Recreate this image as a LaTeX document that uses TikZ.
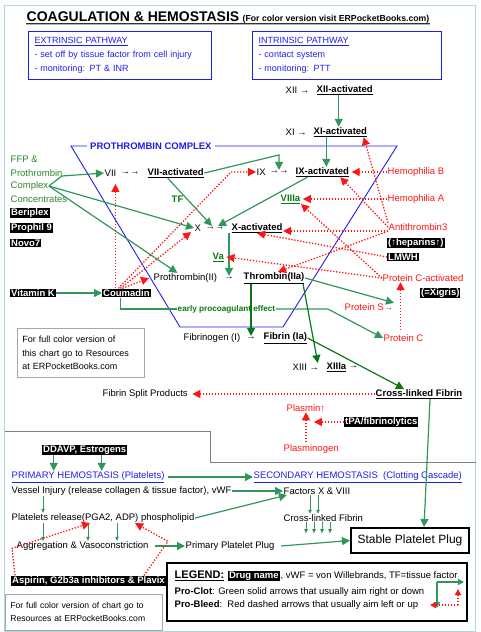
\documentclass[tikz,border=0pt]{standalone}
\usepackage{fontspec}
\setmainfont{Liberation Sans}
\usetikzlibrary{arrows.meta, positioning}
\definecolor{ERblue}{RGB}{30,30,235}
\definecolor{ERgreen}{RGB}{50,150,90}
\definecolor{ERdkgreen}{RGB}{10,120,20}
\definecolor{ERtxtgreen}{RGB}{45,135,45}
\definecolor{ERred}{RGB}{255,20,20}
\definecolor{ERframe}{RGB}{175,215,230}
\tikzstyle{lbl}      = [font=\fontsize{9.5}{11}\selectfont, inner sep=0.5pt, anchor=west]
\tikzstyle{act}      = [lbl, font=\fontsize{9.5}{11}\selectfont\bfseries]
\tikzstyle{redlbl}   = [lbl, text=ERred]
\tikzstyle{drug}     = [lbl, font=\fontsize{9.5}{11}\selectfont\bfseries, fill=black, text=white, inner sep=1pt]
\tikzstyle{pathbox}  = [draw=ERblue, line width=1pt, text=ERblue, align=left, anchor=north west, font=\fontsize{9}{14}\selectfont, inner xsep=6pt, minimum height=48pt]
\tikzstyle{notebox}  = [draw=gray!70, line width=0.8pt, align=left, anchor=north west, inner xsep=5pt]
\tikzstyle{clotline} = [ERgreen, line width=1.2pt]
\tikzstyle{clot}     = [clotline, -{Triangle[length=8pt,width=8pt]}]
\tikzstyle{clotdk}   = [clot, ERdkgreen]
\tikzstyle{bleed}    = [ERred, line width=1.3pt, dash pattern=on 1.3pt off 1.7pt, -{Triangle[length=8pt,width=8pt]}]
\tikzstyle{tick}     = [ERgreen, line width=0.8pt, -{Triangle[length=4pt,width=3.5pt]}]
\tikzstyle{small}    = [-{Triangle[length=6pt,width=6pt]}]

\begin{document}
\begin{tikzpicture}[x=1pt,y=-1pt]
    \useasboundingbox (0,0) rectangle (480,632);
    \draw[ERframe, line width=1pt] (4.5,5) rectangle (475.5,631);
    \draw[gray, line width=0.8pt] (4.5,431) -- (210,431) -- (210,462) -- (475.5,462);

    % heading
    \node[lbl, font=\fontsize{14}{16}\selectfont\bfseries] (title) at (26,17) {COAGULATION \& HEMOSTASIS};
    \node[lbl, font=\fontsize{8.7}{10}\selectfont\bfseries] (visit) at (242,19.5) {(For color version visit ERPocketBooks.com)};
    \draw[gray!60, line width=1.4pt] ([yshift=-2pt]title.south west) -- ([yshift=-2pt]title.south west -| visit.east);
    \draw[black!80, line width=0.7pt] ([yshift=-1pt]title.south west) -- ([yshift=-1pt]title.south west -| visit.east);

    \node[pathbox, text width=171pt] (extr) at (28,31) {\underline{EXTRINSIC PATHWAY}\\- set off by tissue factor from cell injury\\- monitoring: PT \& INR};
    \node[pathbox, text width=177pt] (intr) at (252,31) {\underline{INTRINSIC PATHWAY}\\- contact system\\- monitoring: PTT};

    % prothrombin complex
    \draw[ERblue, line width=0.9pt] (71,146) -- (180,327) -- (283,327) -- (397,146) -- cycle;
    \node[lbl, font=\fontsize{9.5}{11}\selectfont\bfseries, text=ERblue, fill=white, inner xsep=3pt] (pcx) at (87,146) {PROTHROMBIN COMPLEX};

    \node[lbl] (XII)   at (285,90) {XII →};
    \node[act] (XIIa)  at (316,90) {\underline{XII-activated}};
    \node[lbl] (XI)    at (285,132) {XI →};
    \node[act] (XIa)   at (313,132) {\underline{XI-activated}};
    \node[lbl] (IX)    at (256,172) {IX};
    \node[lbl, anchor=center] (IXto) at (279,172) {→→};
    \node[act] (IXa)   at (295,172) {\underline{IX-activated}};
    \node[lbl] (VII)   at (104,173) {VII};
    \node[lbl, anchor=center] (VIIto) at (130,173) {→→};
    \node[act] (VIIa)  at (147,173) {\underline{VII-activated}};
    \node[lbl] (X)     at (194,228) {X};
    \node[lbl, anchor=center] (Xto) at (215,228) {→→};
    \node[act] (Xa)    at (231,228) {\underline{X-activated}};
    \node[lbl] (PT)    at (153,278) {Prothrombin(II)};
    \node[lbl, anchor=center] (PTto) at (229,278) {→};
    \node[act] (Th)    at (243,278) {\underline{Thrombin(IIa)}};
    \node[lbl] (Fg)    at (183,338) {Fibrinogen (I)};
    \node[lbl, anchor=center] (Fgto) at (251,338) {→};
    \node[act] (Fb)    at (263,338) {\underline{Fibrin (Ia)}};
    \node[lbl] (XIII)  at (292,367) {XIII →};
    \node[act] (XIIIa) at (326,367) {\underline{XIIIa}};
    \node[lbl, right=1pt of XIIIa] (XIIIto) {→};
    \node[act] (XLF)   at (375,394) {\underline{Cross-linked Fibrin}};
    \node[lbl] (FSP)   at (102,394) {Fibrin Split Products};

    \node[act, text=ERdkgreen] (VIIIa) at (280,199) {\underline{VIIIa}};
    \node[act, text=ERdkgreen] (Va)    at (212,257) {\underline{Va}};
    \node[act, text=ERdkgreen] (TF)    at (171,199) {TF};

    \node[redlbl] (HemB) at (387,172) {Hemophilia B};
    \node[redlbl] (HemA) at (387,199) {Hemophilia A};
    \node[redlbl] (AT3)  at (388,227) {Antithrombin3};
    \node[drug]   (Hep)  at (387,243) {(↑heparins↑)};
    \node[drug]   (LMWH) at (387,257) {LMWH};
    \node[redlbl] (PCa)  at (382,278) {Protein C-activated};
    \node[drug]   (Xig)  at (420,293) {(=Xigris)};
    \node[redlbl] (PS)   at (344,307) {Protein S→};
    \node[redlbl] (PC)   at (383,338) {Protein C};
    \node[redlbl] (Pls)  at (286,408) {Plasmin↑};
    \node[drug]   (tPA)  at (344,422) {tPA/fibrinolytics};
    \node[redlbl] (Plg)  at (283,449) {Plasminogen};

    \node[lbl, text=ERtxtgreen] (FFP1) at (10,159) {FFP \&};
    \node[lbl, text=ERtxtgreen] (FFP2) at (10,173) {Prothrombin};
    \node[lbl, text=ERtxtgreen] (FFP3) at (10,186) {Complex};
    \node[lbl, text=ERtxtgreen] (FFP4) at (10,199) {Concentrates};
    \node[drug] (Beri) at (10,213) {Beriplex};
    \node[drug] (Prof) at (10,228) {Prophil 9};
    \node[drug] (Novo) at (10,243) {Novo7};
    \node[drug] (VitK) at (10,293) {Vitamin K};
    \node[drug] (Coum) at (102,293) {Coumadin};
    \node[lbl, font=\fontsize{8.2}{10}\selectfont\bfseries, text=ERdkgreen] (early) at (177,309) {early procoagulant effect};

    \node[notebox, text width=117pt, minimum height=49pt, font=\fontsize{9}{13.5}\selectfont] (note1) at (17,328) {For full color version of\\this chart go to Resources\\at ERPocketBooks.com};

    % pro-clot
    \draw[clot] ([xshift=-6pt]XIIa.south) -- ([xshift=-6pt]XIIa.south |- XIa.north);
    \draw[clot] ([xshift=-14pt]XIa.south) -- ([xshift=-14pt]XIa.south |- IXa.north);
    \draw[clot] (VIIa.east) -- ([yshift=15pt]IXto.north) -- (IXto.north);
    \draw[clot] ([xshift=-8pt]VIIa.south) -- ([xshift=-3pt]Xto.north);
    \draw[clot] ([xshift=-15pt]IXa.south) -- ([xshift=3pt]Xto.north);
    \draw[clot] (FFP3.east) -- ++(13,-10) -- (VII.west);
    \draw[clot] (FFP3.east) -- (X.west);
    \draw[clot] (FFP3.east) -- ([xshift=-8pt]PT.north);
    \draw[clot] (PTto.north |- Xa.south) -- (PTto.north);
    \draw[clot] (VitK.east) -- (Coum.west);
    \draw[clotline] ([xshift=-6pt]Coum.south) |- (early.west);
    \draw[clot] (early.east) -- ++(52,0) -- (PC.west);
    \draw[clotdk] (Fgto.north |- Th.south) -- (Fgto.north);
    \draw[clotdk] ([xshift=-2pt]Th.south east) -- ([xshift=-2pt]XIII.north east);
    \draw[clot] (Th.east) -- (PS.north east);
    \draw[clotdk] (Fb.east) -- ([xshift=-15pt]XLF.north);

    % pro-bleed
    \draw[bleed, shorten >=7pt] ([xshift=-11pt]Coum.north) -- ([xshift=-11pt]Coum.north |- VII.south);
    \draw[bleed] ([xshift=-8pt]Coum.north) -- ([xshift=-25pt]IX.west) -- (IX.west);
    \draw[bleed] ([xshift=-6pt]Coum.north) -- ([xshift=-3pt]X.south west);
    \draw[bleed] ([xshift=-4pt]Coum.north) -- ([xshift=-4pt]PT.west);
    \draw[bleed] (HemB.west) -- ([xshift=2pt]IXa.east);
    \draw[bleed] (HemA.west) -- ([xshift=2pt]VIIIa.east);
    \draw[bleed] (AT3.north west) -- ([xshift=-4pt]XIa.south east);
    \draw[bleed] (AT3.west) -- ([xshift=18pt]IXa.south);
    \draw[bleed] ([yshift=-4pt]AT3.west) -- ([yshift=-4pt]AT3.west -| Xa.east);
    \draw[bleed] (AT3.south west) -- ([xshift=4pt]Th.north);
    \draw[bleed] (LMWH.west) -- (Xa.south);
    \draw[bleed] (PCa.west) -- (VIIIa.south east);
    \draw[bleed] (PCa.west) -- ([xshift=2pt]Va.east);
    \draw[bleed, shorten <=4pt] ([xshift=-3pt]PC.north) -- ([xshift=-3pt]PC.north |- PCa.south);
    \draw[bleed, shorten >=4pt] (XLF.west) -- (FSP.east);
    \draw[bleed] (tPA.west) -- ([xshift=8pt]Pls.south |- tPA.west);
    \draw[bleed, shorten <=2pt] (Pls.south |- Plg.north) -- (Pls.south);

    % lower part
    \node[drug] (DDAVP) at (42,450) {DDAVP, Estrogens};
    \node[lbl, text=ERblue] (Prim) at (11,477) {\underline{PRIMARY HEMOSTASIS (Platelets)}};
    \node[lbl, text=ERblue] (Sec)  at (253,477) {\underline{SECONDARY HEMOSTASIS\ \ (Clotting Cascade)}};
    \node[lbl] (Vess)  at (11,491) {Vessel Injury (release collagen \& tissue factor), vWF};
    \node[lbl] (Fac)   at (283,491) {Factors X \& VIII};
    \node[lbl] (PlRel) at (11,518) {Platelets release(PGA2, ADP) phospholipid};
    \node[lbl] (XLF2)  at (283,518) {Cross-linked Fibrin};
    \node[lbl] (Agg)   at (16,546) {Aggregation \& Vasoconstriction};
    \node[lbl] (PPP)   at (185,546) {Primary Platelet Plug};
    \node[draw, line width=2pt, anchor=north west, minimum width=118pt, minimum height=25pt, inner sep=0pt, font=\fontsize{12}{14}\selectfont] (SPP) at (350,527) {Stable Platelet Plug};
    \node[drug] (Asp)  at (11,581) {Aspirin, G2b3a inhibitors \& Plavix};

    \draw[clot] ([xshift=11pt]XLF.south) -- ([xshift=14pt]SPP.north);
    \draw[clot] ([xshift=-31pt]DDAVP.south) -- ([xshift=-31pt]DDAVP.south |- Prim.north);
    \draw[clot] ([xshift=17pt]DDAVP.south) -- ([xshift=17pt]DDAVP.south |- Prim.north);
    \draw[clot] ([xshift=3pt]Prim.east) -- (Sec.west);
    \draw[clot] (Vess.east) -- (Fac.west);
    \draw[clot] (PlRel.east) -- ([xshift=4pt]Fac.south west);
    \draw[tick] ([xshift=32pt]Vess.south west) -- ([xshift=32pt]Vess.south west |- PlRel.north);
    \foreach \dx in {32pt,77pt,106pt}
        \draw[tick] ([xshift=\dx]PlRel.south west) -- ([xshift=\dx]PlRel.south west |- Agg.north);
    \foreach \dx in {27pt,35pt}
        \draw[tick] ([xshift=\dx]Fac.south west) -- ([xshift=\dx]Fac.south west |- XLF2.north);
    \foreach \dx in {23pt,31pt,39pt,47pt}
        \draw[tick] ([xshift=\dx]XLF2.south west) -- ++(0,11);
    \draw[clot] ([xshift=6pt]Agg.east) -- (PPP.west);
    \draw[clot] ([xshift=6pt]PPP.east) -- (SPP.west);
    \draw[bleed] ([xshift=4pt]Asp.north west) -- ++(-3,-27) -- ([xshift=79pt]PlRel.south west);
    \draw[bleed] ([xshift=-22pt]Asp.north east) -- ++(24,-34) -- ([xshift=124pt]PlRel.south west);

    % legend
    \draw[line width=2.5pt] (167,563) rectangle (467,621);
    \node[lbl, font=\fontsize{11}{13}\selectfont\bfseries] (Leg) at (174,576) {\underline{LEGEND:}};
    \node[drug, right=3pt of Leg] (DrugN) {Drug name};
    \node[lbl, right=0pt of DrugN] (LegT) {, vWF = von Willebrands, TF=tissue factor};
    \node[lbl] (Clot)  at (174,592) {\textbf{Pro-Clot}: Green solid arrows that usually aim right or down};
    \node[lbl] (Bleed) at (174,605) {\textbf{Pro-Bleed}:\ \ Red dashed arrows that usually aim left or up};
    \coordinate (lgG) at (437,582);
    \coordinate (lgR) at (458,605);
    \draw[clot, small] (lgG) -- ++(27,0);
    \draw[clot, small] (lgG) -- ++(0,26);
    \draw[bleed, small] (lgR) -- ++(-28,0);
    \draw[bleed, small] (lgR) -- ++(0,-16);

    \node[notebox, text width=147pt, minimum height=36pt, font=\fontsize{8.6}{13}\selectfont] (note2) at (5,594) {For full color version of chart go to\\Resources at ERPocketBooks.com};

\end{tikzpicture}
\end{document}
